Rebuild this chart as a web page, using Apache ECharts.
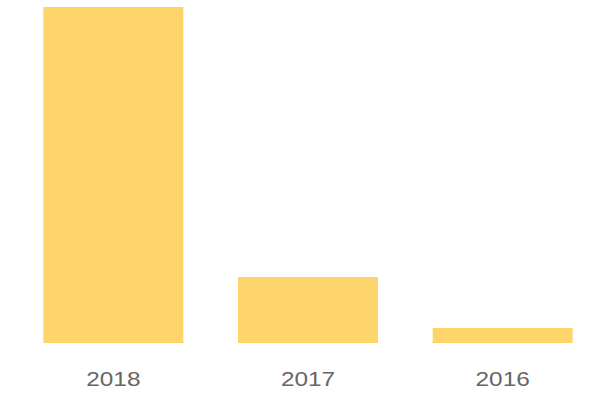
<!DOCTYPE html>
<html><head><meta charset="utf-8">
<script src="https://cdn.jsdelivr.net/npm/echarts@6/dist/echarts.min.js"></script>
<style>html,body{margin:0;padding:0;background:#fff}#c{width:600px;height:400px}</style>
</head><body><div id="c"></div>
<script>
const categories = ['2018', '2017', '2016'];
const values = [336, 66, 15];
const chart = echarts.init(document.getElementById('c'), null, { renderer: 'svg' });
chart.setOption({
  animation: false,
  grid: { left: 16, right: 0, top: 7, bottom: 57 },
  xAxis: {
    type: 'category', data: categories,
    axisLine: { show: false }, axisTick: { show: false },
    axisLabel: { color: '#666', fontSize: 20, margin: 26, fontFamily: 'Liberation Sans, Arial, sans-serif' }
  },
  yAxis: { type: 'value', min: 0, max: 336, show: false, splitLine: { show: false } },
  series: [{
    type: 'bar', data: values, barWidth: 140,
    itemStyle: { color: '#FDD56A' }
  }]
});
// widen label glyphs horizontally to match the reference's wider lettering
document.querySelectorAll('#c svg text').forEach(t => {
  const b = t.getBBox();
  const cx = b.x + b.width / 2;
  const orig = t.getAttribute('transform') || '';
  t.setAttribute('transform', orig + ' translate(' + cx + ' 0) scale(1.22 1) translate(' + (-cx) + ' 0)');
});
</script></body></html>
